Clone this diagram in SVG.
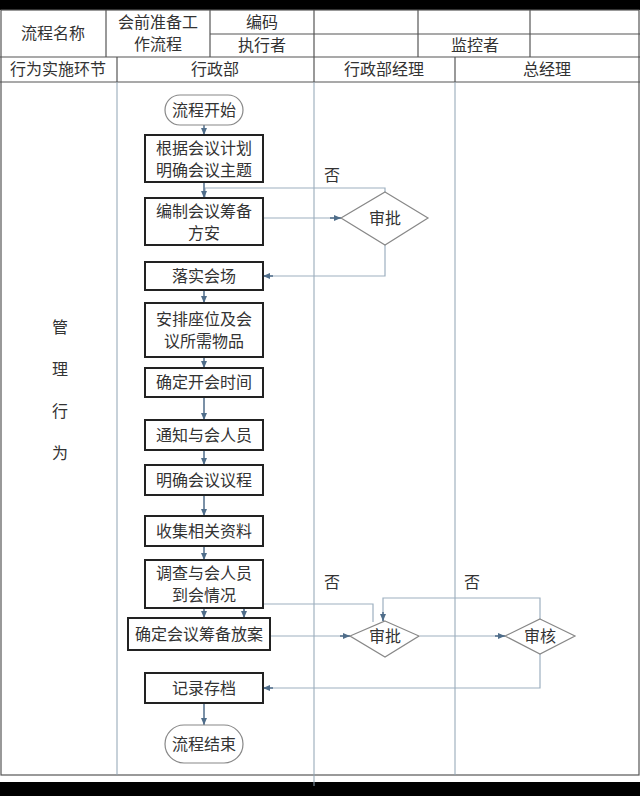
<svg xmlns="http://www.w3.org/2000/svg" width="640" height="796" viewBox="0 0 640 796">
<defs>
<marker id="ar" markerWidth="8" markerHeight="8" refX="7" refY="4" orient="auto" markerUnits="userSpaceOnUse"><path d="M0,1 L7,4 L0,7 Z" fill="#4f6d8a"/></marker>
<style>
text{font-family:"Liberation Serif","Noto Sans CJK SC",serif;font-size:16px;fill:#333;text-anchor:middle;dominant-baseline:central}
.g{fill:none;stroke:#555;stroke-width:1.2}
.l{fill:none;stroke:#8fa3b3;stroke-width:1}
.b{fill:#fff;stroke:#222;stroke-width:2}
.d{fill:#fff;stroke:#888;stroke-width:1.2}
.c{fill:none;stroke:#9db0c0;stroke-width:1.2}
.a{fill:none;stroke:#4f6d8a;stroke-width:1.5}
</style>
</defs>
<rect width="640" height="796" fill="#fff"/>
<rect x="0" y="0" width="640" height="10" fill="#000"/>
<rect x="0" y="782" width="640" height="14" fill="#000"/>
<g id="table">
<rect class="g" x="1" y="10" width="638" height="765"/>
<line class="g" x1="0" y1="57" x2="640" y2="57"/>
<line class="g" x1="0" y1="82" x2="640" y2="82"/>
<line class="g" x1="210" y1="34" x2="640" y2="34"/>
<line class="g" x1="106" y1="10" x2="106" y2="57"/>
<line class="g" x1="210" y1="10" x2="210" y2="57"/>
<line class="g" x1="314" y1="10" x2="314" y2="57"/>
<line class="g" x1="418" y1="10" x2="418" y2="57"/>
<line class="g" x1="530" y1="10" x2="530" y2="57"/>
<line class="g" x1="117" y1="57" x2="117" y2="82"/>
<line class="g" x1="314" y1="57" x2="314" y2="82"/>
<line class="g" x1="455" y1="57" x2="455" y2="82"/>
<line class="l" x1="117" y1="82" x2="117" y2="775"/>
<line class="l" x1="314" y1="82" x2="314" y2="786"/>
<line class="l" x1="455" y1="82" x2="455" y2="775"/>
<text x="53" y="33">流程名称</text>
<text x="158" y="22">会前准备工</text>
<text x="158" y="44">作流程</text>
<text x="262" y="22">编码</text>
<text x="262" y="45">执行者</text>
<text x="475" y="45">监控者</text>
<text x="58" y="69">行为实施环节</text>
<text x="215" y="69">行政部</text>
<text x="384" y="69">行政部经理</text>
<text x="547" y="69">总经理</text>
<text x="60" y="327">管</text>
<text x="60" y="369">理</text>
<text x="60" y="411">行</text>
<text x="60" y="453">为</text>
</g>
<g id="connectors">
<path class="c" d="M263,218 H341"/>
<path class="c" d="M385,192 V188 H205 V198"/>
<path class="c" d="M385,245 V276 H263"/>
<path class="c" d="M270,636 H350"/>
<path class="c" d="M420,636 H505"/>
<path class="c" d="M540,654 V688 H263"/>
<path class="c" d="M540,620 V598 H383 V621"/>
<path class="c" d="M373,622 V604 H244 V618"/>
<path class="a" d="M204,125 V135" marker-end="url(#ar)"/>
<path class="a" d="M204,182 V198" marker-end="url(#ar)"/>
<path class="a" d="M204,290 V303" marker-end="url(#ar)"/>
<path class="a" d="M204,357 V368" marker-end="url(#ar)"/>
<path class="a" d="M204,397 V420" marker-end="url(#ar)"/>
<path class="a" d="M204,450 V465" marker-end="url(#ar)"/>
<path class="a" d="M204,495 V516" marker-end="url(#ar)"/>
<path class="a" d="M204,546 V560" marker-end="url(#ar)"/>
<path class="a" d="M204,608 V618" marker-end="url(#ar)"/>
<path class="a" d="M204,703 V725" marker-end="url(#ar)"/>
<path class="a" d="M244,608 V618" marker-end="url(#ar)"/>
<path class="a" d="M330,218 H341" marker-end="url(#ar)"/>
<path class="a" d="M273,276 H263" marker-end="url(#ar)"/>
<path class="a" d="M340,636 H350" marker-end="url(#ar)"/>
<path class="a" d="M495,636 H505" marker-end="url(#ar)"/>
<path class="a" d="M273,688 H263" marker-end="url(#ar)"/>
<path class="a" d="M383,612 V621" marker-end="url(#ar)"/>
<text x="332" y="175">否</text>
<text x="332" y="582">否</text>
<text x="472" y="582">否</text>
</g>
<g id="n0"><rect x="165" y="95" width="78" height="30" rx="15" class="d" stroke="#555"/><text x="204" y="110">流程开始</text></g>
<g id="n1"><rect class="b" x="145" y="135" width="118" height="47"/><text x="204" y="148">根据会议计划</text><text x="204" y="170">明确会议主题</text></g>
<g id="n2"><rect class="b" x="145" y="198" width="118" height="47"/><text x="204" y="211">编制会议筹备</text><text x="204" y="233">方安</text></g>
<g id="d1"><polygon class="d" points="385,192 428,218 385,245 341,218"/><text x="385" y="218">审批</text></g>
<g id="n3"><rect class="b" x="145" y="262" width="118" height="28"/><text x="204" y="276">落实会场</text></g>
<g id="n4"><rect class="b" x="145" y="303" width="118" height="54"/><text x="204" y="319">安排座位及会</text><text x="204" y="341">议所需物品</text></g>
<g id="n5"><rect class="b" x="145" y="368" width="118" height="29"/><text x="204" y="382">确定开会时间</text></g>
<g id="n6"><rect class="b" x="145" y="420" width="118" height="30"/><text x="204" y="435">通知与会人员</text></g>
<g id="n7"><rect class="b" x="145" y="465" width="118" height="30"/><text x="204" y="480">明确会议议程</text></g>
<g id="n8"><rect class="b" x="145" y="516" width="118" height="30"/><text x="204" y="531">收集相关资料</text></g>
<g id="n9"><rect class="b" x="145" y="560" width="118" height="48"/><text x="204" y="573">调查与会人员</text><text x="204" y="595">到会情况</text></g>
<g id="n10"><rect class="b" x="128" y="618" width="142" height="32"/><text x="199" y="634">确定会议筹备放案</text></g>
<g id="d2"><polygon class="d" points="385,621 419,636 385,657 350,636"/><text x="385" y="636">审批</text></g>
<g id="d3"><polygon class="d" points="540,619 575,636 540,654 505,636"/><text x="540" y="636">审核</text></g>
<g id="n11"><rect class="b" x="145" y="673" width="118" height="30"/><text x="204" y="688">记录存档</text></g>
<g id="n12"><rect x="165" y="725" width="78" height="38" rx="19" class="d" stroke="#555"/><text x="204" y="744">流程结束</text></g>
</svg>
